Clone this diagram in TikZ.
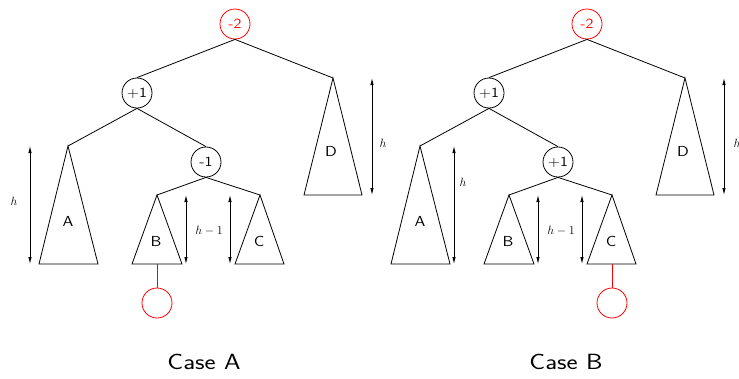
\documentclass[tikz,border=0pt]{standalone}
\usetikzlibrary{arrows.meta}
\newcommand\widen[2][1.15]{\scalebox{#1}[1]{#2}}
\begin{document}
\begin{tikzpicture}[x=1pt,y=-1pt,line width=0.8pt,
  bal/.style={circle,draw,minimum size=30pt,inner sep=0pt,font=\sffamily\fontsize{14}{16}\selectfont},
  hot/.style={bal,draw=red,text=red},
  lbl/.style={font=\sffamily\fontsize{14.5}{16}\selectfont},
  hlbl/.style={font=\fontsize{13}{15}\selectfont},
  dim/.style={{Latex[length=7pt,width=3.5pt]}-{Latex[length=7pt,width=3.5pt]}},
  caselbl/.style={font=\sffamily\fontsize{22}{26}\selectfont}]
\useasboundingbox (0,0) rectangle (739,378);
% ---------- Case A ----------
\node[hot] (aR) at (235,24) {\widen{-2}};
\node[bal] (aP) at (137,93) {\widen{+1}};
\node[bal] (aQ) at (206,162) {\widen{-1}};
\coordinate (aAt) at (68,146);
\coordinate (aBt) at (157,195);
\coordinate (aCt) at (260,195);
\coordinate (aDt) at (333,78);
\coordinate (aBb) at (157,264);
\node[hot] (aX) at (157,303) {};
\draw (aR.south) -- (aP.north);
\draw (aR.south) -- (aDt);
\draw (aP.south) -- (aAt);
\draw (aP.south) -- (aQ.north);
\draw (aQ.south) -- (aBt);
\draw (aQ.south) -- (aCt);
\draw (aAt) -- (39,264) -- (98,264) -- cycle;
\draw (aBt) -- (132,264) -- (182,264) -- cycle;
\draw (aCt) -- (235,264) -- (284,264) -- cycle;
\draw (aDt) -- (304,195) -- (362,195) -- cycle;
\draw[red] (aBb) -- (aX.north);
\node[lbl] (aAl) at (68,221) {\widen{A}};
\node[lbl] (aBl) at (156,241) {\widen{B}};
\node[lbl] (aCl) at (259,241) {\widen{C}};
\node[lbl] (aDl) at (331,151) {\widen{D}};
\coordinate (aH1t) at (30,146); \coordinate (aH1b) at (30,264);
\draw[dim] (aH1t) -- (aH1b);
\node[hlbl] (aH1l) at (14,201) {$h$};
\coordinate (aH2t) at (186,195); \coordinate (aH2b) at (186,264);
\coordinate (aH3t) at (230,195); \coordinate (aH3b) at (230,264);
\draw[dim] (aH2t) -- (aH2b);
\draw[dim] (aH3t) -- (aH3b);
\node[hlbl] (aH2l) at (209,231) {$h-1$};
\coordinate (aH4t) at (372,78); \coordinate (aH4b) at (372,195);
\draw[dim] (aH4t) -- (aH4b);
\node[hlbl] (aH4l) at (383,143) {$h$};
\node[caselbl] (aCap) at (204,362) {\widen[1.2]{Case A}};
% ---------- Case B ----------
\node[hot] (bR) at (587,24) {\widen{-2}};
\node[bal] (bP) at (489,93) {\widen{+1}};
\node[bal] (bQ) at (558,162) {\widen{+1}};
\coordinate (bAt) at (420,146);
\coordinate (bBt) at (509,195);
\coordinate (bCt) at (612,195);
\coordinate (bDt) at (685,78);
\coordinate (bCb) at (612,264);
\node[hot] (bX) at (612,303) {};
\draw (bR.south) -- (bP.north);
\draw (bR.south) -- (bDt);
\draw (bP.south) -- (bAt);
\draw (bP.south) -- (bQ.north);
\draw (bQ.south) -- (bBt);
\draw (bQ.south) -- (bCt);
\draw (bAt) -- (391,264) -- (450,264) -- cycle;
\draw (bBt) -- (484,264) -- (534,264) -- cycle;
\draw (bCt) -- (587,264) -- (636,264) -- cycle;
\draw (bDt) -- (656,195) -- (714,195) -- cycle;
\draw[red] (bCb) -- (bX.north);
\node[lbl] (bAl) at (420,221) {\widen{A}};
\node[lbl] (bBl) at (508,241) {\widen{B}};
\node[lbl] (bCl) at (611,241) {\widen{C}};
\node[lbl] (bDl) at (683,151) {\widen{D}};
\coordinate (bH1t) at (454,146); \coordinate (bH1b) at (454,264);
\draw[dim] (bH1t) -- (bH1b);
\node[hlbl] (bH1l) at (463,182) {$h$};
\coordinate (bH2t) at (538,195); \coordinate (bH2b) at (538,264);
\coordinate (bH3t) at (582,195); \coordinate (bH3b) at (582,264);
\draw[dim] (bH2t) -- (bH2b);
\draw[dim] (bH3t) -- (bH3b);
\node[hlbl] (bH2l) at (561,231) {$h-1$};
\coordinate (bH4t) at (724,78); \coordinate (bH4b) at (724,195);
\draw[dim] (bH4t) -- (bH4b);
\node[hlbl] (bH4l) at (737,143) {$h$};
\node[caselbl] (bCap) at (566,362) {\widen[1.2]{Case B}};
\end{tikzpicture}
\end{document}
